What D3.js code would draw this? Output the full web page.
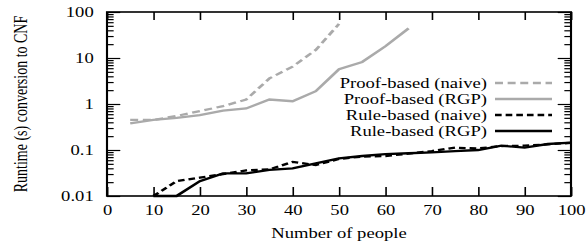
<!DOCTYPE html>
<html>
<head>
<meta charset="utf-8">
<script src="https://cdn.jsdelivr.net/npm/d3@7"></script>
<style>
  html, body { margin: 0; padding: 0; background: #fff; }
  svg { display: block; }
  text { font-family: "Liberation Serif", "Times New Roman", serif; }
</style>
</head>
<body>
<div id="chart"></div>
<script>
// data
const people = [5, 10, 15, 20, 25, 30, 35, 40, 45, 50, 55, 60, 65, 70, 75, 80, 85, 90, 95, 100];
const proofNaive = [0.45, 0.45, 0.55, 0.7, 0.9, 1.25, 3.6, 6.5, 15, 55];
const proofRGP = [0.38, 0.45, 0.5, 0.57, 0.72, 0.8, 1.25, 1.15, 1.9, 5.7, 8.2, 18, 44];
const ruleNaive = [0.01, 0.021, 0.025, 0.03, 0.036, 0.038, 0.055, 0.047, 0.064, 0.072,
  0.074, 0.083, 0.095, 0.112, 0.108, 0.122, 0.124, 0.133, 0.143];
const ruleRGP = [0.01, 0.01, 0.021, 0.031, 0.031, 0.037, 0.04, 0.051, 0.066, 0.074,
  0.081, 0.085, 0.089, 0.095, 0.1, 0.124, 0.113, 0.135, 0.144];
const xTicks = [0, 10, 20, 30, 40, 50, 60, 70, 80, 90, 100];
const yTicks = [0.01, 0.1, 1, 10, 100];

// the original figure is stretched sideways, so draw in a narrower frame
const stretch = 1.33;
const width = 586, height = 247;
const W = width / stretch;
const marginTop = 12, marginBottom = 51;
const left = 107 / stretch, right = 571 / stretch;

const x = d3.scaleLinear().domain([0, 100]).range([left, right]);
const y = d3.scaleLog().domain([0.01, 100]).range([height - marginBottom, marginTop]);

const svg = d3.select("#chart").append("svg")
  .attr("width", width)
  .attr("height", height)
  .attr("viewBox", `0 0 ${W} ${height}`)
  .attr("preserveAspectRatio", "none");

const minor = [];
for (const d of [0.01, 0.1, 1, 10]) for (let k = 2; k <= 9; k++) minor.push(+(d * k).toPrecision(2));

const fontSize = 14;
const styleAxis = g => {
  g.select(".domain").remove();
  g.selectAll("line").attr("stroke", "#000").attr("stroke-width", 1.2);
  g.selectAll("text").attr("font-size", fontSize).attr("fill", "#000");
};

// y axis, ticks pointing inward on both sides
svg.append("g").attr("transform", `translate(${left},0)`)
  .call(d3.axisLeft(y).tickValues(yTicks).tickSize(-10).tickPadding(10).tickFormat(d3.format("~g")))
  .call(styleAxis);
svg.append("g").attr("transform", `translate(${left},0)`)
  .call(d3.axisLeft(y).tickValues(minor).tickSize(-5).tickFormat(""))
  .call(styleAxis);
svg.append("g").attr("transform", `translate(${right},0)`)
  .call(d3.axisRight(y).tickValues(yTicks).tickSize(-10).tickFormat(""))
  .call(styleAxis);
svg.append("g").attr("transform", `translate(${right},0)`)
  .call(d3.axisRight(y).tickValues(minor).tickSize(-5).tickFormat(""))
  .call(styleAxis);

// x axis, bottom and top
svg.append("g").attr("transform", `translate(0,${height - marginBottom})`)
  .call(d3.axisBottom(x).tickValues(xTicks).tickSize(-9).tickPadding(9))
  .call(styleAxis);
svg.append("g").attr("transform", `translate(0,${marginTop})`)
  .call(d3.axisTop(x).tickValues(xTicks).tickSize(-8).tickFormat(""))
  .call(styleAxis);

// frame
svg.append("rect")
  .attr("x", left).attr("y", marginTop)
  .attr("width", right - left).attr("height", height - marginBottom - marginTop)
  .attr("fill", "none").attr("stroke", "#000").attr("stroke-width", 1.6);

const series = [
  { name: "Proof-based (naive)", xs: people.slice(0, proofNaive.length), ys: proofNaive, color: "#aaaaaa", dash: "6,3.5" },
  { name: "Proof-based (RGP)", xs: people.slice(0, proofRGP.length), ys: proofRGP, color: "#aaaaaa", dash: null },
  { name: "Rule-based (naive)", xs: people.slice(1, 1 + ruleNaive.length), ys: ruleNaive, color: "#000", dash: "5,3" },
  { name: "Rule-based (RGP)", xs: people.slice(1, 1 + ruleRGP.length), ys: ruleRGP, color: "#000", dash: null }
];

const line = d3.line().x(d => x(d[0])).y(d => y(d[1]));

series.forEach(s => {
  svg.append("path")
    .datum(s.xs.map((v, i) => [v, s.ys[i]]))
    .attr("fill", "none")
    .attr("stroke", s.color)
    .attr("stroke-width", 2.3)
    .attr("stroke-dasharray", s.dash)
    .attr("d", line);
});

// legend
const legendTop = 83, legendStep = 16;
const legendTextX = 487 / stretch, legendLine = [495 / stretch, 552 / stretch];
series.forEach((s, i) => {
  const ly = legendTop + i * legendStep;
  svg.append("text")
    .attr("x", legendTextX).attr("y", ly).attr("dy", "0.35em")
    .attr("text-anchor", "end")
    .attr("font-size", fontSize).attr("fill", "#000")
    .text(s.name);
  svg.append("line")
    .attr("x1", legendLine[0]).attr("x2", legendLine[1])
    .attr("y1", ly).attr("y2", ly)
    .attr("stroke", s.color).attr("stroke-width", 2.3)
    .attr("stroke-dasharray", s.dash);
});

// axis titles
svg.append("text")
  .attr("x", (left + right) / 2).attr("y", 238)
  .attr("text-anchor", "middle")
  .attr("font-size", fontSize).attr("fill", "#000")
  .text("Number of people");

svg.append("text")
  .attr("transform", `translate(${27 / stretch},${(marginTop + height - marginBottom) / 2}) rotate(-90)`)
  .attr("text-anchor", "middle")
  .attr("font-size", fontSize).attr("fill", "#000")
  .text("Runtime (s) conversion to CNF");
</script>
</body>
</html>
